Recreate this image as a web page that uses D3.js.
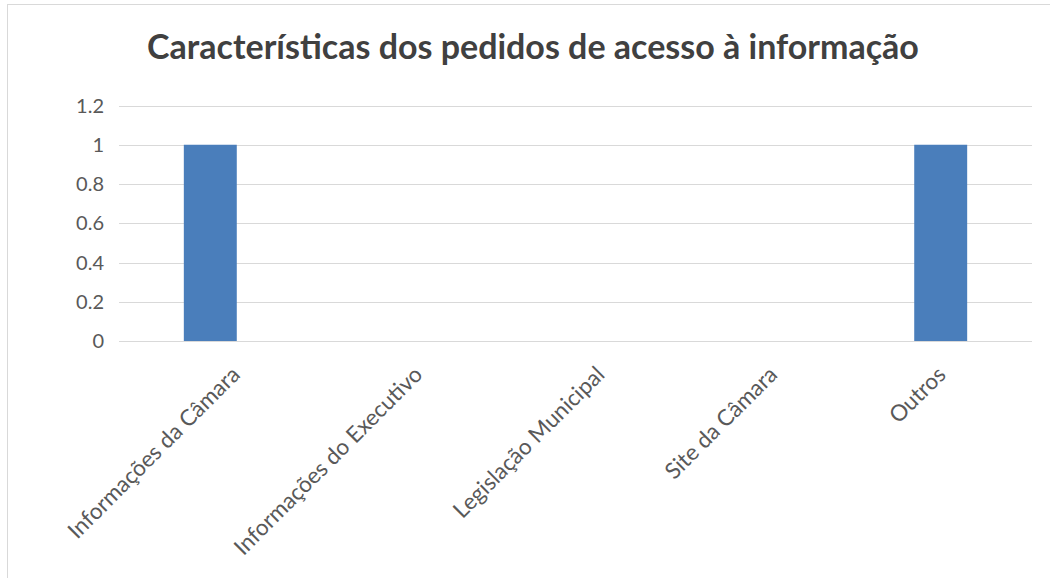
<!DOCTYPE html>
<html>
<head>
<meta charset="utf-8">
<script src="https://cdn.jsdelivr.net/npm/d3@7"></script>
<style>
  body { margin: 0; background: #fff; }
  svg { display: block; }
  .grid line { stroke: #d9d9d9; stroke-width: 1; }
  .tick-label { font-family: Lato, "Open Sans", sans-serif; fill: #595959; }
</style>
</head>
<body>
<svg width="1050" height="578"></svg>
<script>
// dados do gráfico
var titulo = "Características dos pedidos de acesso à informação";
var categorias = ["Informações da Câmara", "Informações do Executivo", "Legislação Municipal", "Site da Câmara", "Outros"];
var valores = [1, 0, 0, 0, 1];
var ticksY = [0, 0.2, 0.4, 0.6, 0.8, 1, 1.2];

var svg = d3.select("svg");

// moldura do gráfico (cortada à direita e em baixo)
svg.append("rect")
  .attr("x", 7.5).attr("y", 4.5)
  .attr("width", 1100).attr("height", 700)
  .attr("fill", "#fff")
  .attr("stroke", "#d9d9d9");

var x = d3.scaleBand()
  .domain(categorias)
  .range([119, 1032])
  .paddingInner(0.71)
  .paddingOuter(0.355);

var y = d3.scaleLinear()
  .domain([0, 1.2])
  .range([341, 105.5]);

// linhas de grade
var grid = svg.append("g").attr("class", "grid");
grid.selectAll("line")
  .data(ticksY)
  .enter().append("line")
  .attr("x1", 119).attr("x2", 1032)
  .attr("y1", function(d) { return Math.round(y(d)) + 0.5; })
  .attr("y2", function(d) { return Math.round(y(d)) + 0.5; });

// rótulos do eixo y
svg.append("g")
  .selectAll("text")
  .data(ticksY)
  .enter().append("text")
  .attr("class", "tick-label")
  .attr("x", 104)
  .attr("y", function(d) { return y(d); })
  .attr("dy", "0.36em")
  .attr("text-anchor", "end")
  .style("font-size", "20px")
  .text(function(d) { return d; });

// barras
svg.append("g")
  .selectAll("rect")
  .data(valores)
  .enter().append("rect")
  .attr("x", function(d, i) { return x(categorias[i]); })
  .attr("width", x.bandwidth())
  .attr("y", function(d) { return y(d); })
  .attr("height", function(d) { return y(0) - y(d); })
  .attr("fill", "#4a7ebb");

// rótulos do eixo x, girados 45°
var rotulos = svg.append("g")
  .selectAll("text")
  .data(categorias)
  .enter().append("text")
  .attr("class", "tick-label")
  .attr("text-anchor", "end")
  .style("font-size", "22.5px")
  .text(function(d) { return d; });

rotulos.attr("transform", function(d) {
  var len = this.getComputedTextLength();
  var desloc = Math.min(31, 0.18 * len - 6);
  var cx = x(d) + x.bandwidth() / 2 + desloc;
  return "translate(" + cx + "," + (y(0) + 35) + ") rotate(-45)";
});

// título
svg.append("text")
  .attr("x", 533)
  .attr("y", 59)
  .attr("text-anchor", "middle")
  .style("font-family", "Lato, 'Open Sans', sans-serif")
  .style("font-weight", "bold")
  .style("font-size", "34px")
  .style("fill", "#404040")
  .text(titulo);
</script>
</body>
</html>
